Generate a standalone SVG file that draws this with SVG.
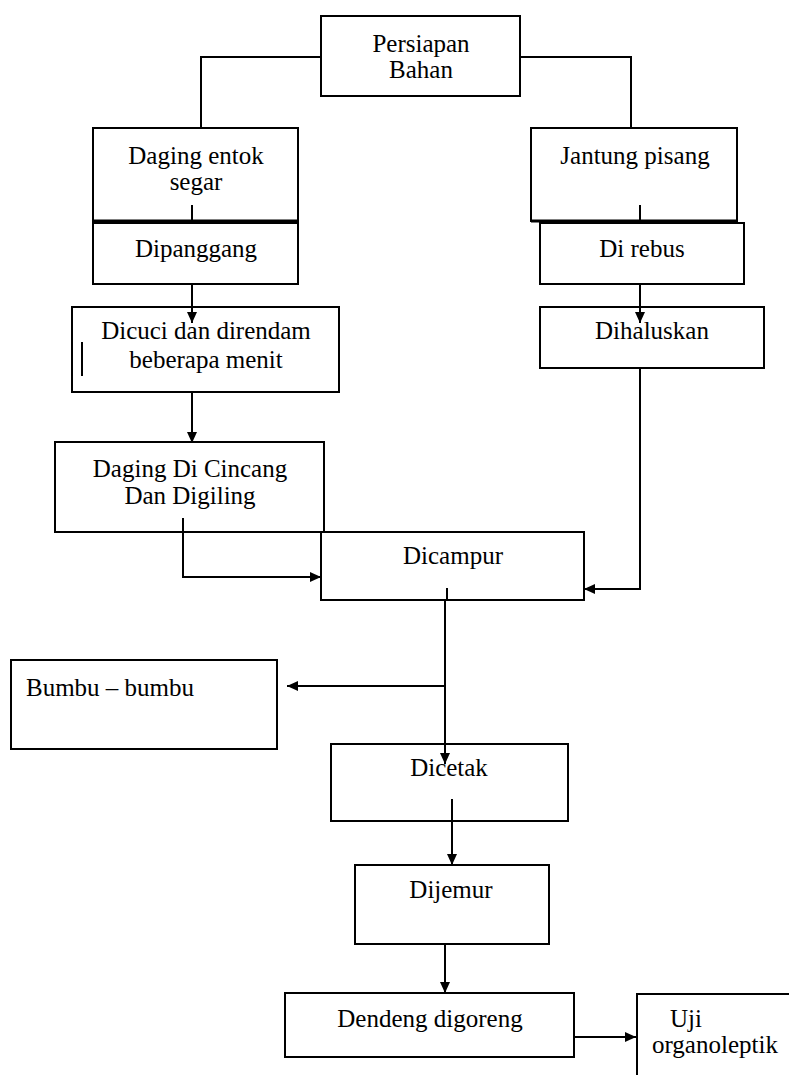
<svg xmlns="http://www.w3.org/2000/svg" width="789" height="1075" viewBox="0 0 789 1075">
<style>
.box{fill:none;stroke:#000;stroke-width:2}
.ln{fill:none;stroke:#000;stroke-width:2}
.t{text-anchor:middle}
</style>
<defs>
<marker id="ah" markerUnits="userSpaceOnUse" markerWidth="12" markerHeight="12" viewBox="0 0 12 12" refX="11" refY="6" orient="auto">
<path d="M0,1 L11,6 L0,11 Z" fill="#000"/>
</marker>
</defs>
<rect width="789" height="1075" fill="#fff"/>
<g id="connectors">
<polyline class="ln" points="321,57 201,57 201,128"/>
<polyline class="ln" points="520,57 631,57 631,128"/>
<line class="ln" x1="192" y1="205" x2="192" y2="221"/>
<line class="ln" x1="640" y1="205" x2="640" y2="221"/>
<line class="ln" x1="192" y1="284" x2="192" y2="323" marker-end="url(#ah)"/>
<line class="ln" x1="640" y1="284" x2="640" y2="323" marker-end="url(#ah)"/>
<line class="ln" x1="192" y1="392" x2="192" y2="443" marker-end="url(#ah)"/>
<polyline class="ln" points="183,518 183,577 321,577" marker-end="url(#ah)"/>
<polyline class="ln" points="640,368 640,589 584,589" marker-end="url(#ah)"/>
<line class="ln" x1="447" y1="588" x2="447" y2="600"/>
<line class="ln" x1="445" y1="600" x2="445" y2="764" marker-end="url(#ah)"/>
<line class="ln" x1="445" y1="686" x2="287" y2="686" marker-end="url(#ah)"/>
<line class="ln" x1="452" y1="799" x2="452" y2="865" marker-end="url(#ah)"/>
<line class="ln" x1="445" y1="944" x2="445" y2="993" marker-end="url(#ah)"/>
<line class="ln" x1="574" y1="1037" x2="636" y2="1037" marker-end="url(#ah)"/>
<line class="ln" x1="82" y1="342" x2="82" y2="376"/>
</g>
<g font-family="Liberation Serif, serif" font-size="25" fill="#000">
<g id="persiapan">
<rect class="box" x="321" y="16" width="199" height="80"/>
<text class="t" x="421" y="52">Persiapan</text>
<text class="t" x="421" y="78">Bahan</text>
</g>
<g id="daging-entok">
<rect class="box" x="93" y="128" width="205" height="93"/>
<line x1="93" y1="221" x2="298" y2="221" stroke="#000" stroke-width="3"/>
<text class="t" x="196" y="164">Daging entok</text>
<text class="t" x="196" y="190">segar</text>
</g>
<g id="dipanggang">
<rect class="box" x="93" y="223" width="205" height="61"/>
<text class="t" x="196" y="257">Dipanggang</text>
</g>
<g id="jantung">
<rect class="box" x="531" y="128" width="206" height="93"/>
<line x1="531" y1="221" x2="737" y2="221" stroke="#000" stroke-width="3"/>
<text class="t" x="635" y="164">Jantung pisang</text>
</g>
<g id="direbus">
<rect class="box" x="540" y="223" width="204" height="61"/>
<text class="t" x="642" y="257">Di rebus</text>
</g>
<g id="dicuci">
<rect class="box" x="72" y="307" width="267" height="85"/>
<text class="t" x="206" y="339">Dicuci dan direndam</text>
<text class="t" x="206" y="368">beberapa menit</text>
</g>
<g id="dihaluskan">
<rect class="box" x="540" y="307" width="224" height="61"/>
<text class="t" x="652" y="339">Dihaluskan</text>
</g>
<g id="dicincang">
<rect class="box" x="55" y="442" width="269" height="90"/>
<text class="t" x="190" y="477">Daging Di Cincang</text>
<text class="t" x="190" y="504">Dan Digiling</text>
</g>
<g id="dicampur">
<rect class="box" x="321" y="532" width="263" height="68"/>
<text class="t" x="453" y="564">Dicampur</text>
</g>
<g id="bumbu">
<rect class="box" x="11" y="660" width="266" height="89"/>
<text x="26" y="696">Bumbu – bumbu</text>
</g>
<g id="dicetak">
<rect class="box" x="331" y="744" width="237" height="77"/>
<text class="t" x="449" y="776">Dicetak</text>
</g>
<g id="dijemur">
<rect class="box" x="355" y="865" width="194" height="79"/>
<text class="t" x="451" y="898">Dijemur</text>
</g>
<g id="dendeng">
<rect class="box" x="285" y="993" width="289" height="64"/>
<text class="t" x="430" y="1027">Dendeng digoreng</text>
</g>
<g id="uji">
<rect class="box" x="637" y="994" width="200" height="150"/>
<text x="670" y="1027">Uji</text>
<text x="652" y="1053">organoleptik</text>
</g>
</g>
</svg>
